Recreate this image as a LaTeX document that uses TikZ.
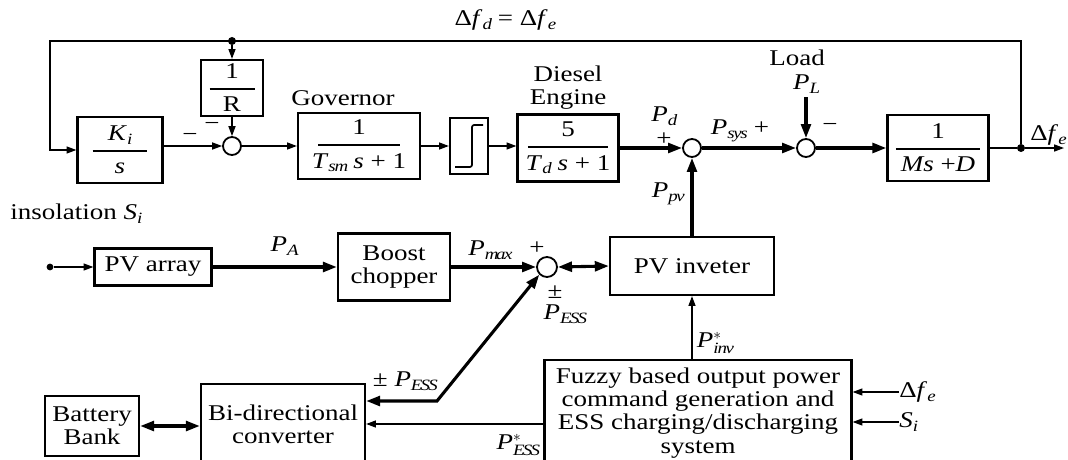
\documentclass[tikz,border=0pt]{standalone}
\usepackage{amsmath}
\usepackage{fontspec}
\setmainfont{Liberation Serif}[FakeStretch=1.2]
\usetikzlibrary{arrows.meta}

\newcommand\va[2]{\textit{#1}\ensuremath{_{\mathit{#2}}}}
\newcommand\vs[2]{\textit{#1}\ensuremath{^{*}_{\mathit{#2}}}}
\newcommand\bfrac[3]{$\genfrac{}{}{1.4pt}{0}{\makebox[#1]{#2}}{\makebox[#1]{#3}}$}

\tikzset{
  blk/.style 2 args={draw, line width=1.6pt, inner sep=0pt, align=center,
    minimum width=#1*0.025cm, minimum height=#2*0.025cm},
  sumc/.style={circle, draw, line width=1.3pt, minimum size=0.45cm, inner sep=0pt},
  jdot/.style={circle, fill, minimum size=0.2cm, inner sep=0pt},
  lbl/.style={inner sep=0pt, align=center},
  sig/.style={line width=0.9pt, >={Triangle[length=7pt,width=5pt]}},
  pw/.style={line width=2.2pt, >={Triangle[length=10pt,width=7pt]}},
}

\begin{document}
\begin{tikzpicture}[x=0.025cm, y=-0.025cm, font=\fontsize{16}{16.5}\selectfont]
  \useasboundingbox (0,0) rectangle (1068,460);
  \clip (0,0) rectangle (1068,460);

  % frequency loop
  \node[lbl] (eq) at (505,20) {Δ\va{f}{d} = Δ\va{f}{e}};
  \coordinate (tl) at (50,41);
  \node[jdot] (j1) at (232,41) {};
  \node[blk={85}{66}] (ki) at (120,150) {\bfrac{39pt}{\va{K}{i}}{\textit{s}}};
  \node[blk={62}{56}] (rr) at (232,88) {\bfrac{32pt}{1}{R}};
  \node[sumc] (s1) at (232,146) {};
  \node[lbl] (m1) at (190,137) {−};
  \node[lbl] (m2) at (212,126) {−};
  \node[blk={122}{66}] (gov) at (359,146) {\bfrac{58pt}{1}{\va{T}{sm} \textit{s} + 1}};
  \node[lbl] (govl) at (343,98) {Governor};
  \node[blk={38}{56}] (sat) at (469,146) {};
  \node[blk={101}{67}] (eng) at (568,148) {\bfrac{57pt}{5}{\va{T}{d} \textit{s} + 1}};
  \node[lbl] (engl) at (568,88) {Diesel\\Engine};
  \node[sumc] (s2) at (692,148) {};
  \node[lbl] (pd) at (664,116) {\va{P}{d}};
  \node[lbl] (pdp) at (664,139) {+};
  \node[sumc] (s3) at (806,148) {};
  \node[lbl] (psys) at (740,131) {\va{P}{sys} +};
  \node[lbl] (loadl) at (797,58) {Load};
  \node[lbl] (pl) at (806,84) {\va{P}{L}};
  \node[lbl] (m3) at (830,127) {−};
  \node[blk={101}{66}] (md) at (938,148) {\bfrac{60pt}{1}{\textit{Ms} +\textit{D}}};
  \node[jdot] (o1) at (1021,148) {};
  \coordinate (fout) at (1064,148);
  \node[lbl, anchor=west] (dfo) at (1030,135) {Δ\va{f}{e}};

  \draw[line width=1.2pt, rounded corners=1.5pt] ([shift={(-14,21)}]sat.center)
    -- ++(17,0) -- ++(0,-42) -- ++(11,0);

  \draw[sig,->] (o1) |- (tl) |- (ki.west);
  \draw[sig,->] (j1) -- (rr.north);
  \draw[sig,->] (rr.south) -- (s1.north);
  \draw[sig,->] (ki.east |- s1.west) -- (s1.west);
  \draw[sig,->] (s1.east) -- (gov.west);
  \draw[sig,->] (gov.east) -- (sat.west);
  \draw[sig,->] (sat.east) -- (sat.east -| eng.west);
  \draw[pw,->] (eng.east) -- (s2.west);
  \draw[pw,->] (s2.east) -- (s3.west);
  \draw[pw,->] (pl.south) ++(0,4) -- (s3.north);
  \draw[pw,->] (s3.east) -- (md.west);
  \draw[sig] (md.east) -- (o1);
  \draw[sig,->] (o1) -- (fout);

  % PV and storage
  \node[lbl, anchor=west] (ins) at (10,214) {insolation \va{S}{i}};
  \node[jdot, minimum size=0.17cm] (idot) at (50,267) {};
  \node[blk={117}{37}] (pv) at (153,267) {PV array};
  \node[blk={112}{67}] (bc) at (394,267) {Boost\\chopper};
  \node[sumc, minimum size=0.5cm] (s4) at (547,267) {};
  \node[blk={164}{58}] (inv) at (692,266) {PV inveter};
  \node[blk={164}{80}] (bd) at (283,424) {Bi-directional\\converter};
  \node[blk={94}{60}] (bb) at (92,426) {Battery\\Bank};
  \node[blk={307}{106}] (fz) at (698,413)
    {Fuzzy based output power\\command generation and\\ESS charging/discharging\\system};
  \coordinate (kn) at (437,401);

  \node[lbl] (pa) at (284,246) {\va{P}{A}};
  \node[lbl] (pmax) at (490,250) {\va{P}{max}};
  \node[lbl] (p4) at (537,248) {+};
  \node[lbl] (pm4) at (555,292) {±};
  \node[lbl] (pess) at (565,314) {\va{P}{ESS}};
  \node[lbl] (ppv) at (668,194) {\va{P}{pv}};
  \node[lbl] (pinv) at (715,343) {\vs{P}{inv}};
  \node[lbl] (pess2) at (405,381) {± \va{P}{ESS}};
  \node[lbl] (pessr) at (518,445) {\vs{P}{ESS}};
  \node[lbl, anchor=west] (dfe) at (899,392) {Δ\va{f}{e}};
  \node[lbl, anchor=west] (si) at (899,422) {\va{S}{i}};

  \draw[sig,->] (idot) -- (pv.west);
  \draw[pw,->] (pv.east) -- (bc.west);
  \draw[pw,->] (bc.east) -- (s4.west);
  \draw[pw,<->] (s4.east) -- (inv.west);
  \draw[pw,->] (inv.north) -- (s2.south);
  \draw[sig,->] (inv.south |- fz.north) -- (inv.south);
  \draw[pw,<->] (bb.east) -- (bb.east -| bd.west);
  \draw[pw,<->] (s4.south west) -- (kn) -- (kn -| bd.east);
  \draw[sig,->] (bd.east -| fz.west) -- (bd.east);
  \draw[sig,->] (dfe.west) -- (dfe.west -| fz.east);
  \draw[sig,->] (si.west) -- (si.west -| fz.east);
\end{tikzpicture}
\end{document}
